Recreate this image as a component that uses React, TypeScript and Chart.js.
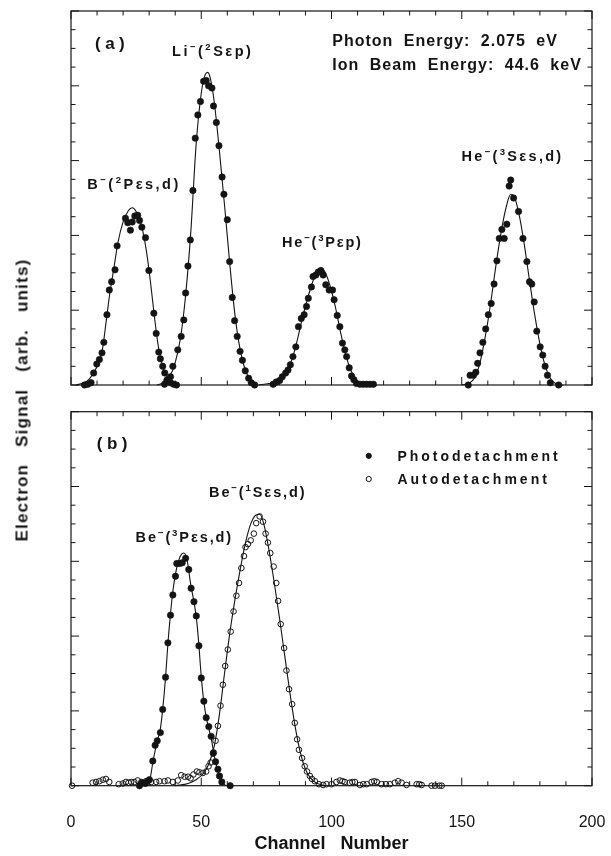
import { useEffect, useRef } from 'react';
import { Chart, registerables } from 'chart.js';

Chart.register(...registerables);

const FONT = '"Liberation Sans", Arial, Helvetica, sans-serif';
const INK = '#141414';

// ---- axes ----
const X_MIN = 0;
const X_MAX = 200;
const X_LABEL_STEP = 50;
const X_MINOR = 10;
const Y_MIN = 0;
const Y_MAX = 5;
const Y_MAJOR = 1;
const Y_MINOR = 0.25;
const X_TITLE = 'Channel   Number';
const Y_TITLE = 'Electron Signal (arb. units)';

type P = [number, number];

// ---- panel (a): measured points (channel, signal) ----
const bDots: P[] = [
  [5.2, 0.0], [6.4, 0.01], [7.7, 0.03], [8.7, 0.16], [9.9, 0.28], [10.9, 0.34], [11.9, 0.43],
  [12.6, 0.57], [13.8, 0.94], [14.7, 1.27], [15.6, 1.38], [16.9, 1.54], [17.7, 1.86], [20.9, 2.23],
  [21.8, 2.17], [22.8, 2.07], [23.5, 2.18], [24.5, 2.26], [25.6, 2.27], [26.3, 2.2], [27.2, 2.11],
  [28.6, 1.97], [29.9, 1.53], [31.8, 0.96], [32.7, 0.69], [33.7, 0.44], [34.3, 0.35], [35.2, 0.25],
  [36.0, 0.16], [37.0, 0.07], [38.2, 0.03], [39.4, 0.01], [40.5, 0.0],
];
const liDots: P[] = [
  [35.9, 0.01], [36.8, 0.06], [38.2, 0.11], [39.1, 0.25], [41.0, 0.47], [42.3, 0.65], [43.3, 0.87],
  [44.0, 1.23], [44.9, 1.59], [45.8, 1.94], [46.8, 2.6], [47.7, 3.3], [48.7, 3.61], [49.7, 3.79],
  [50.9, 4.06], [51.9, 4.07], [52.8, 4.0], [54.1, 3.97], [54.7, 3.73], [55.8, 3.51], [56.8, 3.2],
  [58.0, 2.78], [58.7, 2.55], [60.0, 2.21], [60.9, 1.65], [61.9, 1.17], [62.8, 0.86], [63.8, 0.65],
  [64.9, 0.45], [65.8, 0.33], [66.9, 0.19], [68.2, 0.09], [69.2, 0.03], [70.5, 0.0],
];
const he3pDots: P[] = [
  [77.6, 0.01], [78.8, 0.04], [80.1, 0.06], [81.1, 0.11], [82.4, 0.16], [83.3, 0.2], [84.2, 0.27],
  [85.2, 0.38], [86.3, 0.51], [87.3, 0.78], [88.4, 0.89], [89.5, 0.94], [90.4, 1.05], [91.1, 1.16],
  [92.3, 1.31], [92.9, 1.45], [94.0, 1.47], [94.9, 1.51], [95.9, 1.53], [96.8, 1.47], [97.8, 1.34],
  [99.1, 1.27], [100.4, 1.27], [101.0, 1.14], [102.2, 0.93], [103.2, 0.78], [104.2, 0.56],
  [105.1, 0.47], [105.8, 0.38], [106.8, 0.23], [107.7, 0.12], [108.6, 0.07], [109.6, 0.02],
  [110.9, 0.01], [112.2, 0.01], [113.5, 0.01], [114.8, 0.01], [116.1, 0.01],
];
const he3sDots: P[] = [
  [152.5, 0.0], [153.2, 0.13], [154.5, 0.13], [155.4, 0.17], [156.1, 0.29], [157.0, 0.43],
  [158.1, 0.57], [159.2, 0.75], [160.2, 0.94], [161.3, 1.09], [162.4, 1.35], [163.5, 1.66],
  [164.4, 1.96], [165.4, 2.08], [166.3, 1.96], [167.3, 2.15], [168.2, 2.66], [168.8, 2.74],
  [169.9, 2.5], [171.8, 2.32], [173.5, 1.96], [175.0, 1.65], [176.0, 1.38], [176.9, 1.35],
  [177.8, 1.11], [178.8, 0.72], [180.1, 0.51], [181.1, 0.4], [182.0, 0.25], [182.9, 0.13],
  [184.0, 0.03], [187.2, 0.0],
];

// ---- panel (a): fitted curves ----
const bFit: P[] = [
  [2, 0], [5, 0.03], [7, 0.08], [9, 0.18], [10.5, 0.29], [12, 0.46], [13.5, 0.85], [15, 1.25],
  [16.5, 1.57], [18, 1.9], [20, 2.18], [22, 2.33], [23.5, 2.37], [25, 2.32], [27, 2.14], [29, 1.78],
  [30.5, 1.38], [32, 0.92], [33.5, 0.52], [35, 0.27], [36.5, 0.13], [38, 0.05], [40, 0],
];
const liFit: P[] = [
  [33, 0], [36, 0.04], [38, 0.12], [40, 0.3], [42, 0.62], [44, 1.2], [46, 2.05], [48, 3.2],
  [50, 3.9], [51.5, 4.15], [52.5, 4.18], [53.5, 4.1], [55, 3.78], [57, 3.12], [59, 2.38],
  [61, 1.6], [63, 0.92], [65, 0.46], [67, 0.19], [69, 0.06], [71, 0],
];
const he3pFit: P[] = [
  [72, 0], [76, 0.02], [79, 0.05], [81, 0.1], [83, 0.19], [85, 0.36], [87, 0.62], [89, 0.92],
  [91, 1.18], [93, 1.4], [95, 1.54], [96, 1.56], [97.5, 1.51], [99.5, 1.32], [101.5, 1.04],
  [103.5, 0.7], [105.5, 0.4], [107.5, 0.19], [109.5, 0.07], [111, 0.02], [113, 0],
];
const he3sFit: P[] = [
  [150, 0], [153, 0.03], [155, 0.1], [157, 0.3], [159, 0.64], [161, 1.07], [163, 1.57],
  [165, 2.02], [167, 2.37], [168.8, 2.55], [170, 2.53], [172, 2.28], [174, 1.88], [176, 1.4],
  [178, 0.94], [180, 0.55], [182, 0.26], [184, 0.09], [186, 0.02], [189, 0],
];

// ---- panel (b): measured points ----
const photoDots: P[] = [
  [26.3, 0.0], [27.3, 0.04], [28.5, 0.03], [29.4, 0.06], [30.1, 0.08], [31.4, 0.33], [32.3, 0.54],
  [33.1, 0.6], [34.3, 0.71], [35.2, 1.02], [36.3, 1.45], [37.2, 1.91], [38.2, 2.28], [39.1, 2.55],
  [40.1, 2.8], [40.6, 2.97], [41.7, 2.97], [42.7, 2.98], [44.0, 3.04], [45.2, 2.89], [46.1, 2.64],
  [47.2, 2.46], [48.1, 2.27], [49.1, 1.87], [50.0, 1.44], [51.0, 1.13], [51.9, 0.91], [52.9, 0.79],
  [53.8, 0.66], [54.7, 0.44], [55.5, 0.32], [56.4, 0.22], [57.0, 0.13], [57.9, 0.05], [61.1, 0.0],
];
const autoDots: P[] = [
  [0.4, 0.0], [8.3, 0.04], [9.6, 0.05], [10.9, 0.06], [12.2, 0.08], [13.4, 0.09], [14.7, 0.05],
  [18.3, 0.02], [19.9, 0.03], [21.1, 0.05], [22.1, 0.04], [23.1, 0.05], [24.3, 0.05], [25.6, 0.07],
  [27.0, 0.05], [28.8, 0.06], [30.8, 0.05], [32.7, 0.05], [34.0, 0.06], [35.9, 0.06], [37.2, 0.07],
  [39.1, 0.05], [41.0, 0.07], [42.3, 0.14], [43.6, 0.12], [44.9, 0.12], [45.9, 0.1], [47.0, 0.15],
  [48.3, 0.19], [49.3, 0.18], [50.6, 0.17], [51.9, 0.19], [52.8, 0.26], [53.6, 0.31], [54.5, 0.43],
  [55.5, 0.6], [56.4, 0.8], [57.4, 1.07], [58.3, 1.35], [59.2, 1.6], [60.2, 1.82], [61.3, 2.06],
  [62.4, 2.33], [63.5, 2.54], [64.5, 2.71], [65.4, 2.91], [66.4, 3.07], [67.0, 3.19], [67.9, 3.23],
  [69.0, 3.28], [70.2, 3.37], [71.1, 3.51], [72.4, 3.6], [73.7, 3.53], [74.7, 3.37], [75.6, 3.25],
  [76.5, 3.11], [77.8, 2.93], [78.8, 2.71], [79.5, 2.47], [80.5, 2.16], [81.8, 1.84], [82.7, 1.54],
  [83.7, 1.29], [84.9, 1.09], [85.9, 0.84], [86.8, 0.62], [87.5, 0.48], [88.7, 0.37], [89.7, 0.26],
  [90.6, 0.19], [91.7, 0.13], [92.5, 0.09], [93.6, 0.06], [95.2, 0.02], [96.8, 0.01], [98.1, 0.02],
  [100.0, 0.02], [101.9, 0.05], [103.2, 0.07], [104.2, 0.06], [105.1, 0.05], [107.0, 0.04],
  [108.0, 0.05], [109.0, 0.05], [110.9, 0.01], [112.2, 0.02], [113.5, 0.02], [115.4, 0.05],
  [116.4, 0.06], [117.4, 0.05], [119.2, 0.02], [120.9, 0.02], [122.4, 0.02], [124.3, 0.04],
  [125.6, 0.06], [126.9, 0.04], [128.8, 0.01], [132.7, 0.02], [133.7, 0.02], [134.6, 0.01],
  [138.4, 0.0], [139.7, 0.0], [141.4, 0.0], [142.3, 0.0],
];

// ---- panel (b): fitted curves ----
const photoFit: P[] = [
  [27, 0], [29, 0.02], [30.5, 0.12], [31.5, 0.33], [33, 0.58], [34.3, 0.76], [35.2, 1.02],
  [36.3, 1.45], [37.2, 1.9], [38.2, 2.3], [39.1, 2.6], [40.5, 2.9], [42, 3.07], [43.2, 3.11],
  [44.5, 3.03], [46, 2.68], [47.2, 2.46], [48.2, 2.22], [49, 1.92], [50, 1.46], [51, 1.12],
  [52, 0.9], [53, 0.75], [54, 0.6], [55, 0.4], [56, 0.25], [57, 0.12], [58, 0.05], [59.5, 0],
];
const autoFit: P[] = [
  [40, 0], [45, 0.03], [48, 0.08], [51, 0.17], [53, 0.3], [55, 0.53], [57, 0.96], [59, 1.52],
  [61, 2.05], [63, 2.5], [65, 2.9], [67, 3.25], [69, 3.5], [71, 3.62], [72.5, 3.63], [74, 3.5],
  [76, 3.15], [78, 2.72], [80, 2.25], [82, 1.75], [84, 1.25], [86, 0.8], [88, 0.45], [90, 0.22],
  [92, 0.1], [94, 0.04], [97, 0],
];

const LEGEND_LABELS = ['Photodetachment', 'Autodetachment'];

// ---- annotation config (data coordinates) ----
interface Note {
  text: string;
  x: number;
  y: number;
  size: number;
  spacing: number;
  word?: number;
  align: 'left' | 'center';
}

const NOTES_A: Note[] = [
  { text: '(a)', x: 9.2, y: 4.49, size: 17, spacing: 4.5, align: 'left' },
  { text: 'Li^{−}(^{2}Sεp)', x: 54.4, y: 4.4, size: 14.5, spacing: 2.5, align: 'center' },
  { text: 'Photon Energy: 2.075 eV', x: 100.3, y: 4.53, size: 16, spacing: 1, word: 5, align: 'left' },
  { text: 'Ion Beam Energy: 44.6 keV', x: 100.3, y: 4.21, size: 16, spacing: 1, word: 5, align: 'left' },
  { text: 'B^{−}(^{2}Pεs,d)', x: 24.2, y: 2.62, size: 14.5, spacing: 2.5, align: 'center' },
  { text: 'He^{−}(^{3}Pεp)', x: 96.5, y: 1.84, size: 14.5, spacing: 1.8, align: 'center' },
  { text: 'He^{−}(^{3}Sεs,d)', x: 169.5, y: 2.99, size: 14.5, spacing: 2.3, align: 'center' },
];
const NOTES_B: Note[] = [
  { text: '(b)', x: 9.9, y: 4.5, size: 17, spacing: 4.5, align: 'left' },
  { text: 'Be^{−}(^{1}Sεs,d)', x: 71.7, y: 3.86, size: 14.5, spacing: 1.9, align: 'center' },
  { text: 'Be^{−}(^{3}Pεs,d)', x: 43.5, y: 3.26, size: 14.5, spacing: 1.9, align: 'center' },
];
const LEGEND_B = { markerX: 114.3, textX: 125.3, rows: [4.41, 4.1], size: 14, spacing: 3 };

// ---------------------------------------------------------------
const toXY = (a: P[]) => a.map(([x, y]) => ({ x, y }));

function parseRich(text: string) {
  const parts: { t: string; sup: boolean }[] = [];
  const re = /\^\{([^}]*)\}/g;
  let last = 0;
  let m: RegExpExecArray | null;
  while ((m = re.exec(text))) {
    if (m.index > last) parts.push({ t: text.slice(last, m.index), sup: false });
    parts.push({ t: m[1], sup: true });
    last = m.index + m[0].length;
  }
  if (last < text.length) parts.push({ t: text.slice(last), sup: false });
  return parts;
}

function setSpacing(ctx: any, letter: number, word: number) {
  if ('letterSpacing' in ctx) ctx.letterSpacing = `${letter}px`;
  if ('wordSpacing' in ctx) ctx.wordSpacing = `${word}px`;
}

function drawNote(ctx: CanvasRenderingContext2D, n: Note, px: number, py: number) {
  const parts = parseRich(n.text);
  const fontOf = (sup: boolean) => `bold ${sup ? n.size * 0.66 : n.size}px ${FONT}`;
  setSpacing(ctx, n.spacing, n.word || 0);
  const widths = parts.map((p) => {
    ctx.font = fontOf(p.sup);
    return ctx.measureText(p.t).width;
  });
  const total = widths.reduce((s, w) => s + w, 0);
  let x = n.align === 'center' ? px - total / 2 : px;
  ctx.textAlign = 'left';
  ctx.textBaseline = 'alphabetic';
  ctx.fillStyle = INK;
  parts.forEach((p, i) => {
    ctx.font = fontOf(p.sup);
    ctx.fillText(p.t, x, p.sup ? py - n.size * 0.42 : py);
    x += widths[i];
  });
  setSpacing(ctx, 0, 0);
}

const framePlugin = {
  id: 'frame',
  afterDatasetsDraw(chart: any, _args: any, opts: any) {
    const { ctx, chartArea: a, scales } = chart;
    const xs = scales.x;
    const ys = scales.y;
    ctx.save();
    ctx.strokeStyle = INK;
    ctx.lineWidth = 1.2;
    ctx.strokeRect(a.left, a.top, a.right - a.left, a.bottom - a.top);
    ctx.lineWidth = 1;
    const seg = (x1: number, y1: number, x2: number, y2: number) => {
      ctx.beginPath();
      ctx.moveTo(x1, y1);
      ctx.lineTo(x2, y2);
      ctx.stroke();
    };
    for (let v = X_MIN; v <= X_MAX + 1e-9; v += X_MINOR) {
      const px = xs.getPixelForValue(v);
      const len = Math.abs(v % X_LABEL_STEP) < 1e-9 ? 8 : 4.5;
      seg(px, a.top, px, a.top + len);
      seg(px, a.bottom, px, a.bottom - len);
    }
    const nY = Math.round((Y_MAX - Y_MIN) / Y_MINOR);
    for (let i = 0; i <= nY; i++) {
      const v = Y_MIN + i * Y_MINOR;
      const py = ys.getPixelForValue(v);
      const major = Math.abs(v / Y_MAJOR - Math.round(v / Y_MAJOR)) < 1e-9;
      const len = major ? 8 : 4.5;
      seg(a.left, py, a.left + len, py);
      seg(a.right, py, a.right - len, py);
    }
    (opts.notes || []).forEach((n: Note) => {
      drawNote(ctx, n, xs.getPixelForValue(n.x), ys.getPixelForValue(n.y));
    });
    const lg = opts.legend;
    if (lg) {
      lg.items.forEach((it: any, i: number) => {
        const mx = xs.getPixelForValue(lg.markerX);
        const my = ys.getPixelForValue(lg.rows[i]);
        const ds = chart.data.datasets[it.dataset];
        ctx.beginPath();
        ctx.arc(mx, my, 2.6, 0, Math.PI * 2);
        ctx.lineWidth = 1;
        ctx.strokeStyle = ds.borderColor;
        if (it.filled) {
          ctx.fillStyle = ds.backgroundColor;
          ctx.fill();
        }
        ctx.stroke();
        ctx.font = `bold ${lg.size}px ${FONT}`;
        setSpacing(ctx, lg.spacing, 0);
        ctx.fillStyle = INK;
        ctx.textAlign = 'left';
        ctx.textBaseline = 'middle';
        ctx.fillText(ds.label, xs.getPixelForValue(lg.textX), my + 1);
        setSpacing(ctx, 0, 0);
      });
    }
    ctx.restore();
  },
};

const dotSet = (label: string, pts: P[]) => ({
  label,
  data: toXY(pts),
  showLine: false,
  pointRadius: 3.2,
  pointHoverRadius: 3.2,
  pointBorderWidth: 0.6,
  backgroundColor: INK,
  borderColor: INK,
  clip: false as const,
});
const openSet = (label: string, pts: P[]) => ({
  label,
  data: toXY(pts),
  showLine: false,
  pointRadius: 2.8,
  pointHoverRadius: 2.8,
  pointBorderWidth: 1,
  backgroundColor: 'rgba(255,255,255,0)',
  borderColor: INK,
  clip: false as const,
});
const fitSet = (label: string, pts: P[]) => ({
  label,
  data: toXY(pts),
  showLine: true,
  pointRadius: 0,
  borderWidth: 1.1,
  borderColor: INK,
  backgroundColor: INK,
  cubicInterpolationMode: 'monotone' as const,
  clip: false as const,
});

function baseOptions(showX: boolean, padding: any, plug: any): any {
  return {
    animation: false,
    responsive: false,
    devicePixelRatio: 1,
    events: [],
    layout: { padding },
    plugins: { legend: { display: false }, tooltip: { enabled: false }, frame: plug },
    scales: {
      x: showX
        ? {
            type: 'linear',
            min: X_MIN,
            max: X_MAX,
            position: 'bottom',
            grid: { display: false, drawTicks: false },
            border: { display: false },
            ticks: {
              stepSize: X_LABEL_STEP,
              color: INK,
              padding: 27,
              maxRotation: 0,
              autoSkip: false,
              font: { family: FONT, size: 16 },
            },
            title: {
              display: true,
              text: X_TITLE,
              color: INK,
              font: { family: FONT, size: 18, weight: 'bold' },
              padding: { top: 0, bottom: 1 },
            },
            afterFit: (s: any) => {
              s.height = 70.3;
              s.paddingLeft = 0;
              s.paddingRight = 0;
            },
          }
        : { type: 'linear', min: X_MIN, max: X_MAX, display: false },
      y: { type: 'linear', min: Y_MIN, max: Y_MAX, display: false },
    },
  };
}

function Panel({ kind, top, height }: { kind: 'a' | 'b'; top: number; height: number }) {
  const ref = useRef<HTMLCanvasElement | null>(null);
  useEffect(() => {
    if (!ref.current) return;
    let cfg: any;
    if (kind === 'a') {
      cfg = {
        type: 'scatter',
        data: {
          datasets: [
            fitSet('B fit', bFit),
            fitSet('Li fit', liFit),
            fitSet('He 3P fit', he3pFit),
            fitSet('He 3S fit', he3sFit),
            dotSet('B⁻', bDots),
            dotSet('Li⁻', liDots),
            dotSet('He⁻ 3P', he3pDots),
            dotSet('He⁻ 3S', he3sDots),
          ],
        },
        options: baseOptions(false, { left: 71, right: 19, top: 11, bottom: 15 }, { notes: NOTES_A }),
        plugins: [framePlugin],
      };
    } else {
      cfg = {
        type: 'scatter',
        data: {
          datasets: [
            fitSet('Photo fit', photoFit),
            fitSet('Auto fit', autoFit),
            openSet(LEGEND_LABELS[1], autoDots),
            dotSet(LEGEND_LABELS[0], photoDots),
          ],
        },
        options: baseOptions(true, { left: 71, right: 19, top: 11.7, bottom: 0 }, {
          notes: NOTES_B,
          legend: {
            markerX: LEGEND_B.markerX,
            textX: LEGEND_B.textX,
            rows: LEGEND_B.rows,
            size: LEGEND_B.size,
            spacing: LEGEND_B.spacing,
            items: [
              { dataset: 3, filled: true },
              { dataset: 2, filled: false },
            ],
          },
        }),
        plugins: [framePlugin],
      };
    }
    const chart = new Chart(ref.current, cfg);
    return () => chart.destroy();
  }, [kind]);
  return (
    <canvas
      ref={ref}
      width={611}
      height={height}
      style={{ position: 'absolute', left: 0, top, width: 611, height }}
    />
  );
}

export default function App() {
  return (
    <div style={{ position: 'absolute', left: 0, top: 0, width: 611, height: 856, background: '#fff', overflow: 'hidden' }}>
      <Panel kind="a" top={0} height={400} />
      <Panel kind="b" top={400} height={456} />
      <div
        style={{
          position: 'absolute',
          left: 22,
          top: 400,
          transform: 'translate(-50%, -50%) rotate(-90deg)',
          whiteSpace: 'nowrap',
          fontFamily: FONT,
          fontWeight: 'bold',
          fontSize: 17,
          letterSpacing: '1.2px',
          wordSpacing: '11px',
          color: INK,
          lineHeight: 1,
        }}
      >
        {Y_TITLE}
      </div>
    </div>
  );
}
